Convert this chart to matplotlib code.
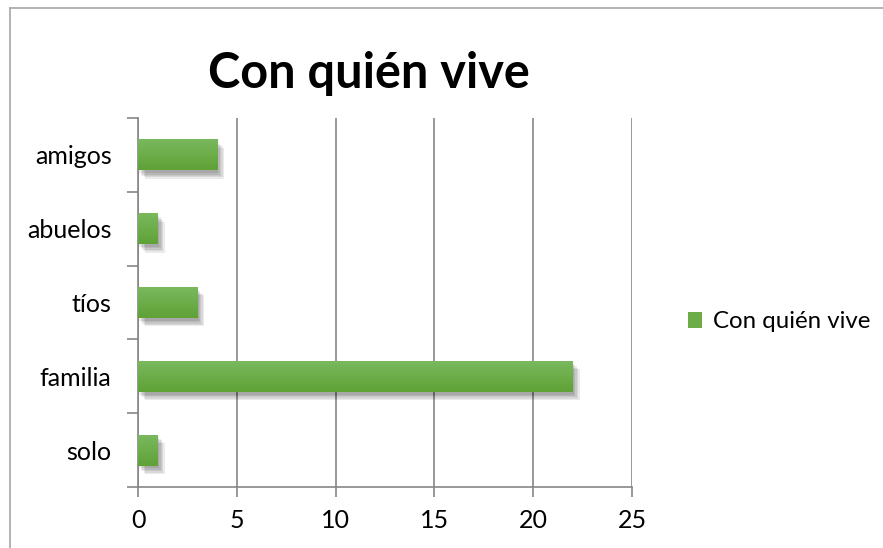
import numpy as np
import matplotlib.pyplot as plt
import matplotlib.patheffects as pe
from matplotlib.lines import Line2D
from matplotlib.patches import Patch
from matplotlib.colors import LinearSegmentedColormap

plt.rcParams['font.family'] = ['Lato', 'DejaVu Sans']

categories = ['solo', 'familia', 'tíos', 'abuelos', 'amigos']
values = [1, 22, 3, 1, 4]
series_name = 'Con quién vive'
x_ticks = [0, 5, 10, 15, 20, 25]

W, H = 883, 548
fig = plt.figure(figsize=(W / 100, H / 100), dpi=100)

# outer chart frame (only top and left edges visible)
fig.add_artist(Line2D([10 / W, 1], [1 - 8 / H, 1 - 8 / H], color='#a6a6a6', lw=1.2))
fig.add_artist(Line2D([10 / W, 10 / W], [0, 1 - 8 / H], color='#a6a6a6', lw=1.2))

# plot area in pixels: x 138..632, y 118..487
ax = fig.add_axes([138 / W, 1 - 487 / H, (632 - 138) / W, (487 - 118) / H])

bar_h = 0.42
bars = ax.barh(range(len(categories)), values, height=bar_h, color='#6cad48', zorder=3)
shadow = [pe.SimplePatchShadow(offset=(o, -o - 1), shadow_rgbFace='#000000', alpha=0.08)
          for o in (5, 4, 3, 2, 1)]
grad = LinearSegmentedColormap.from_list('g', ['#5fa236', '#7ab85d'])
for i, b in enumerate(bars):
    b.set_path_effects(shadow + [pe.Normal()])
    im = ax.imshow(np.linspace(0, 1, 50).reshape(-1, 1), cmap=grad, aspect='auto',
                   extent=(0, values[i], i - bar_h / 2, i + bar_h / 2), origin='lower',
                   zorder=4)
    im.set_clip_path(b)

ax.set_xlim(0, 25)
ax.set_ylim(-0.5, len(categories) - 0.5)
ax.set_xticks(x_ticks)
ax.set_xticklabels([str(t) for t in x_ticks], fontsize=18)
ax.set_yticks([i - 0.5 for i in range(len(categories) + 1)])
ax.set_yticklabels([])
ax.set_yticks(range(len(categories)), minor=True)
ax.set_yticklabels(categories, minor=True, fontsize=18)
ax.tick_params(axis='y', which='minor', length=0, pad=19)
ax.tick_params(axis='y', which='major', length=8, color='#868686', width=1.2)
ax.tick_params(axis='x', length=7, color='#868686', width=1.2, direction='out', pad=9)

ax.grid(axis='x', color='#868686', lw=1.2, zorder=0)
for s in ['top', 'right']:
    ax.spines[s].set_visible(False)
for s in ['left', 'bottom']:
    ax.spines[s].set_color('#868686')
    ax.spines[s].set_linewidth(1.2)

fig.text(369 / W, 1 - 74 / H, series_name, ha='center', va='center',
         fontsize=35, fontweight='bold')

ax.legend([Patch(facecolor='#6cad48')], [series_name], loc='center left',
          bbox_to_anchor=(688 / W, 1 - 322 / H), bbox_transform=fig.transFigure,
          frameon=False, fontsize=17.3, handlelength=0.6, handleheight=0.6,
          handletextpad=0.45, borderpad=0, borderaxespad=0)

fig.savefig('out.png', dpi=100, facecolor='white')
